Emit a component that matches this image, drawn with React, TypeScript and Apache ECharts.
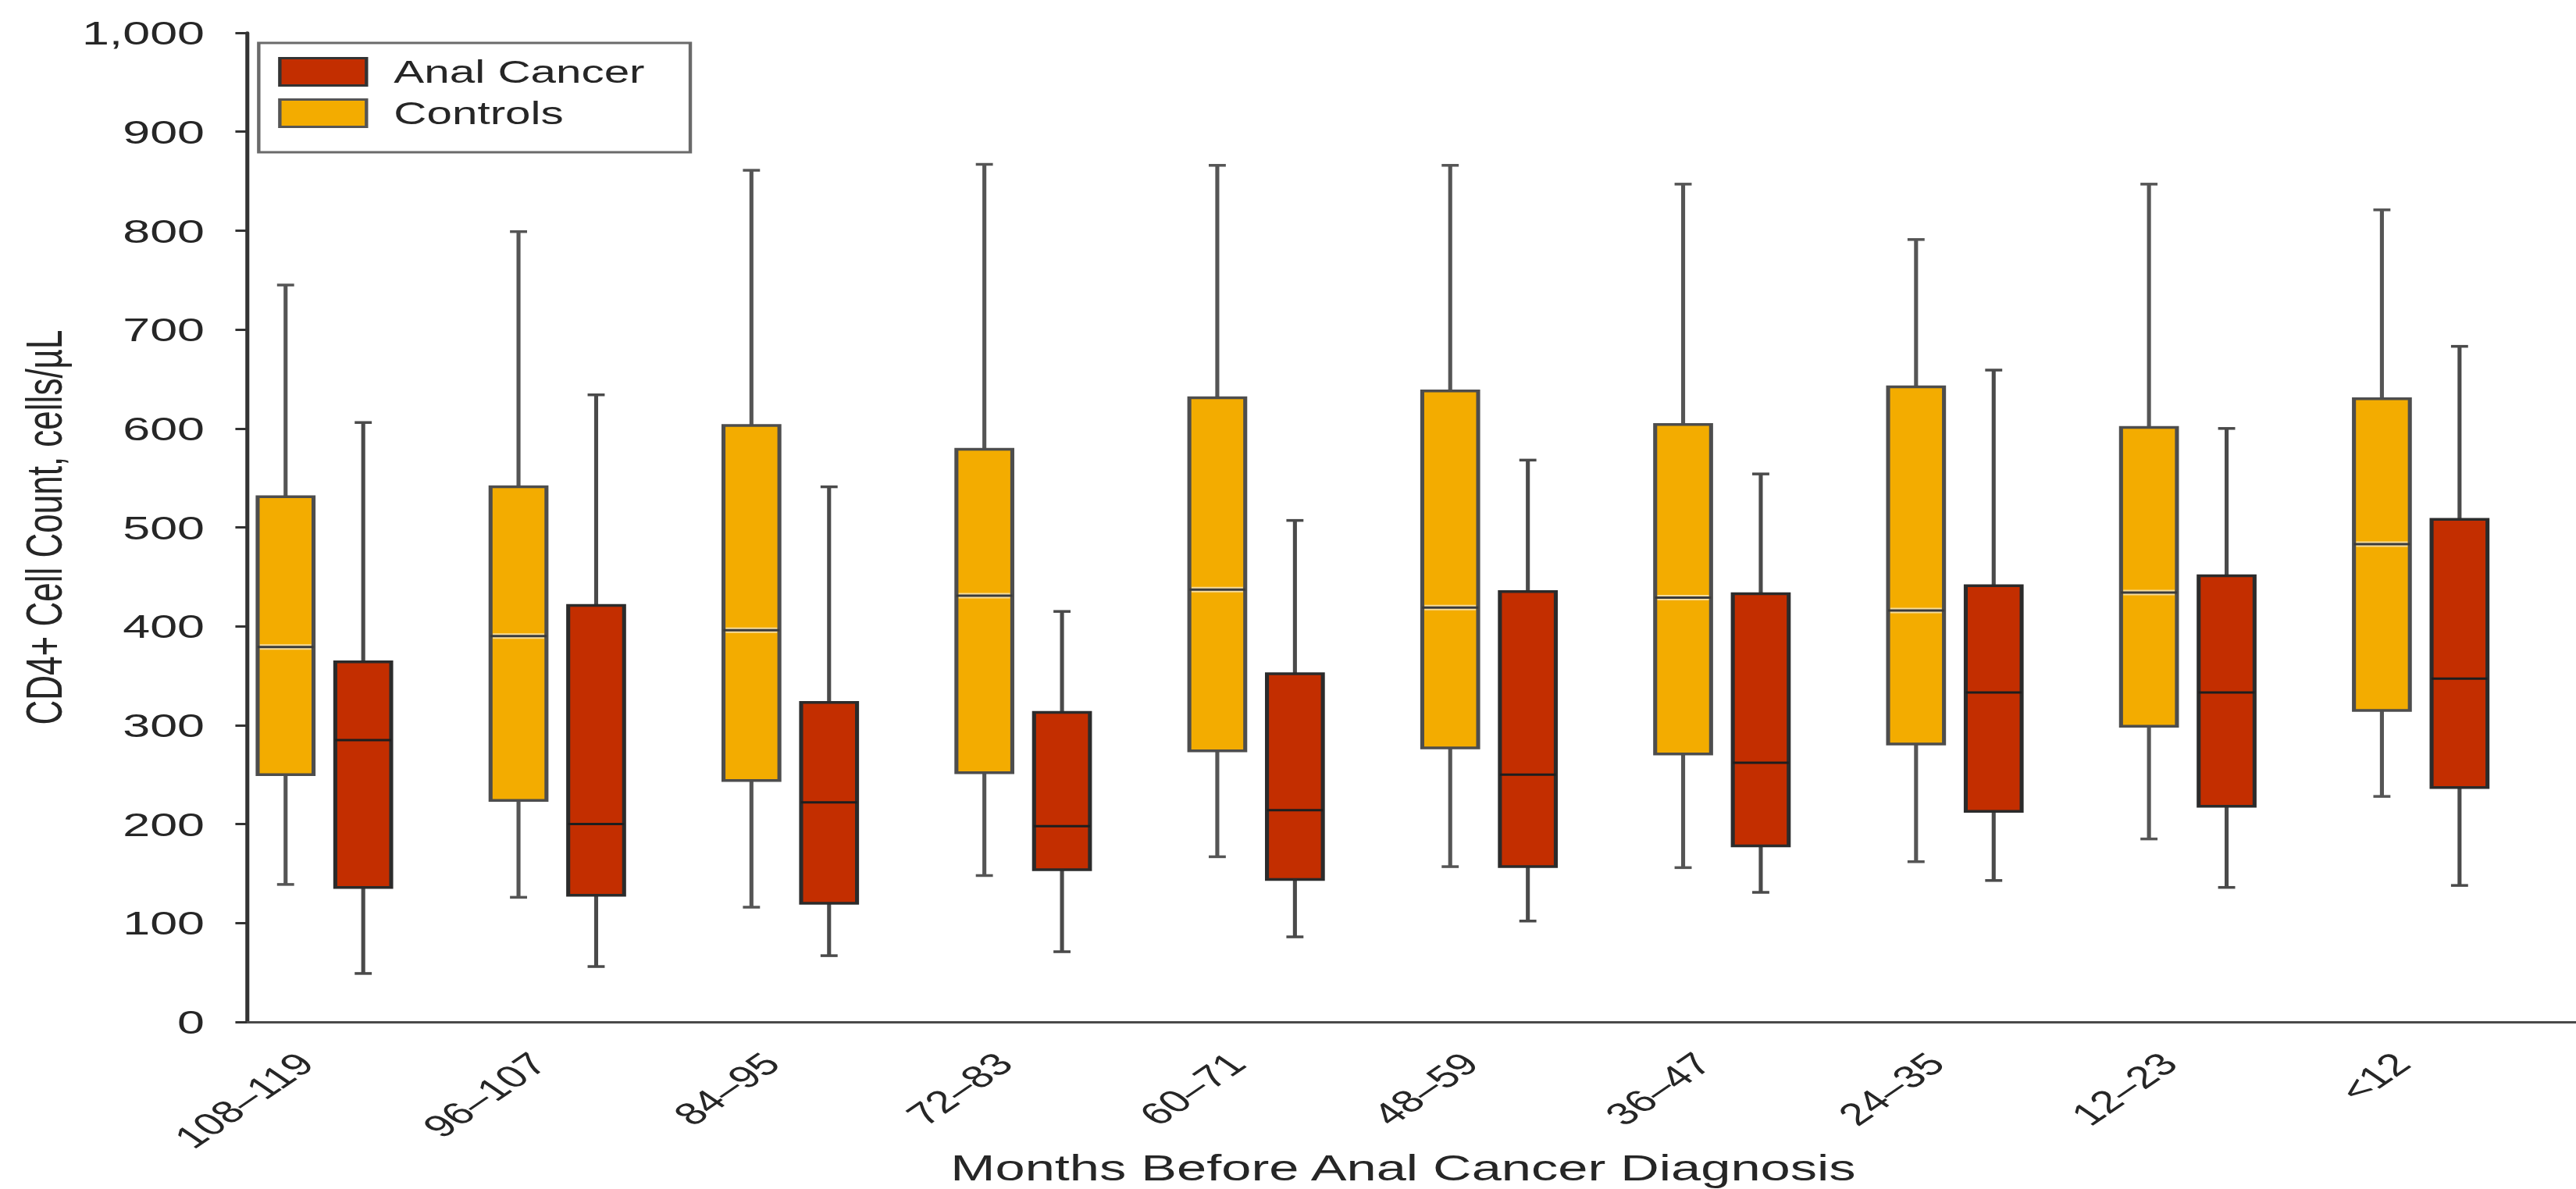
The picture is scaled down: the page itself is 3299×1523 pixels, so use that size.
import React, { useEffect, useRef } from "react";
import * as echarts from "echarts";

// ---------- data ----------
const groupLabels = ["108–119", "96–107", "84–95", "72–83", "60–71", "48–59", "36–47", "24–35", "12–23", "<12"];
// [min, Q1, median, Q3, max]
const controlsStats = [
  [139, 250, 379, 531, 745],
  [126, 224, 390, 541, 799],
  [116, 244, 396, 603, 861],
  [148, 252, 431, 579, 867],
  [167, 274, 437, 631, 866],
  [157, 277, 419, 638, 866],
  [156, 271, 429, 604, 847],
  [162, 281, 416, 642, 791],
  [185, 299, 434, 601, 847],
  [228, 315, 483, 630, 821],
];
const cancerStats = [
  [49, 136, 285, 364, 606],
  [56, 128, 200, 421, 634],
  [67, 120, 222, 323, 541],
  [71, 154, 198, 313, 415],
  [86, 144, 214, 352, 507],
  [102, 157, 250, 435, 568],
  [131, 178, 262, 433, 554],
  [143, 213, 333, 441, 659],
  [136, 218, 333, 451, 600],
  [138, 237, 347, 508, 683],
];
const yAxisMin = 0;
const yAxisMax = 1000;
const yAxisStep = 100;
const xTitle = "Months Before Anal Cancer Diagnosis";
const yTitle = "CD4+ Cell Count, cells/µL";
const seriesNames = ["Anal Cancer", "Controls"];

// ---------- layout ----------
const FULL_W = 3299;
const H = 1523;
const INNER_W = 2260;
const STRETCH = FULL_W / INNER_W;
const SLOTS_PER_GROUP = 3;
const FONT = '"Liberation Sans", Arial, Helvetica, sans-serif';
const TEXT = "#262626";

const YELLOW = "#F3AC00";
const RED = "#C32E00";

function boxRenderer(fill: string, border: string, whisker: string, median: string, medianHalo: string | null) {
  return (params: any, api: any) => {
    const x = api.value(0);
    const ys = [1, 2, 3, 4, 5].map((d) => api.coord([x, api.value(d)])[1]);
    const cx = api.coord([x, 0])[0];
    const band = api.size([1, 0])[0];
    const bw = band * 0.72;
    const cw = band * 0.22;
    const [pMin, pQ1, pMed, pQ3, pMax] = ys;
    const wStyle = { stroke: whisker, lineWidth: 3.5 };
    const children: any[] = [
      { type: "line", shape: { x1: cx, y1: pMax, x2: cx, y2: pQ3 }, style: wStyle },
      { type: "line", shape: { x1: cx, y1: pQ1, x2: cx, y2: pMin }, style: wStyle },
      { type: "line", shape: { x1: cx - cw / 2, y1: pMax, x2: cx + cw / 2, y2: pMax }, style: wStyle },
      { type: "line", shape: { x1: cx - cw / 2, y1: pMin, x2: cx + cw / 2, y2: pMin }, style: wStyle },
      {
        type: "rect",
        shape: { x: cx - bw / 2, y: pQ3, width: bw, height: pQ1 - pQ3 },
        style: { fill, stroke: border, lineWidth: 3.5 },
      },
    ];
    if (medianHalo) {
      children.push({
        type: "line",
        shape: { x1: cx - bw / 2 + 2, y1: pMed, x2: cx + bw / 2 - 2, y2: pMed },
        style: { stroke: medianHalo, lineWidth: 7 },
      });
    }
    children.push({
      type: "line",
      shape: { x1: cx - bw / 2, y1: pMed, x2: cx + bw / 2, y2: pMed },
      style: { stroke: median, lineWidth: 3 },
    });
    return { type: "group", children };
  };
}

export default function App() {
  const ref = useRef<HTMLDivElement>(null);

  useEffect(() => {
    document.body.style.margin = "0";
    document.body.style.overflow = "hidden";
    if (!ref.current) return;
    const chart = echarts.init(ref.current, null, { renderer: "svg" });

    const slotCount = groupLabels.length * SLOTS_PER_GROUP;
    const slots = Array.from({ length: slotCount }, (_, i) => `s${i}`);
    const controlsData = controlsStats.map((s, i) => [i * SLOTS_PER_GROUP, ...s]);
    const cancerData = cancerStats.map((s, i) => [i * SLOTS_PER_GROUP + 1, ...s]);

    const gridLeft = 216.5;
    const slotW = 104 / STRETCH;
    const gridRight = INNER_W - (gridLeft + slotW * slotCount);

    chart.setOption({
      animation: false,
      backgroundColor: "#ffffff",
      textStyle: { fontFamily: FONT },
      grid: { left: gridLeft, right: gridRight, top: 42, bottom: H - 1309 },
      legend: {
        orient: "vertical",
        left: 227,
        top: 55,
        icon: "rect",
        itemWidth: 76,
        itemHeight: 35,
        itemGap: 13,
        padding: [17, 40, 30, 17],
        borderColor: "#6a6a6a",
        borderWidth: 3,
        selectedMode: false,
        textStyle: { fontSize: 40, color: TEXT, fontFamily: FONT, lineHeight: 35, padding: [0, 0, 0, 19] },
        data: [
          { name: seriesNames[0], itemStyle: { color: RED, borderColor: "#333", borderWidth: 3 } },
          { name: seriesNames[1], itemStyle: { color: YELLOW, borderColor: "#555", borderWidth: 3 } },
        ],
      },
      xAxis: {
        type: "category",
        data: slots,
        boundaryGap: true,
        axisLine: { lineStyle: { color: "#4a4a4a", width: 3 } },
        axisTick: {
          interval: (i: number) => i % SLOTS_PER_GROUP === 0,
          length: 12,
          lineStyle: { color: "#4a4a4a", width: 3 },
        },
        axisLabel: {
          interval: (i: number) => i % SLOTS_PER_GROUP === 0,
          formatter: (_v: string, i: number) => (i % SLOTS_PER_GROUP === 0 ? groupLabels[i / SLOTS_PER_GROUP] : ""),
          rotate: 45,
          margin: 29,
          verticalAlign: "top",
          padding: [5, 0, 0, 0],
          fontSize: 40,
          color: TEXT,
          fontFamily: FONT,
        },
        splitLine: { show: false },
      },
      yAxis: {
        type: "value",
        min: yAxisMin,
        max: yAxisMax,
        interval: yAxisStep,
        name: yTitle,
        nameLocation: "middle",
        nameGap: 143,
        nameTextStyle: { fontSize: 44, color: TEXT, fontFamily: FONT },
        axisLine: { show: true, lineStyle: { color: "#333", width: 3.5 } },
        axisTick: { show: true, length: 10, lineStyle: { color: "#333", width: 3 } },
        axisLabel: {
          margin: 37,
          fontSize: 43,
          color: TEXT,
          fontFamily: FONT,
          formatter: (v: number) => v.toLocaleString("en-US"),
        },
        splitLine: { show: false },
      },
      graphic: [
        {
          type: "text",
          x: 1231,
          y: 1496,
          style: {
            text: xTitle,
            fontSize: 47,
            fontFamily: FONT,
            fill: TEXT,
            align: "center",
            verticalAlign: "middle",
          },
        },
      ],
      series: [
        {
          name: seriesNames[0],
          type: "custom",
          itemStyle: { color: RED, borderColor: "#333" },
          encode: { x: 0, y: [1, 2, 3, 4, 5] },
          renderItem: boxRenderer(RED, "#2b2b2b", "#4a4a4a", "#1e1e1e", null),
          data: cancerData,
        },
        {
          name: seriesNames[1],
          type: "custom",
          itemStyle: { color: YELLOW, borderColor: "#555" },
          encode: { x: 0, y: [1, 2, 3, 4, 5] },
          renderItem: boxRenderer(YELLOW, "#4d4d4d", "#555555", "#3a3a3a", "#f7dc9a"),
          data: controlsData,
        },
      ],
    });

    return () => {
      chart.dispose();
    };
  }, []);

  return (
    <div style={{ width: FULL_W, height: H, overflow: "hidden", background: "#fff" }}>
      <div
        ref={ref}
        style={{ width: INNER_W, height: H, transform: `scaleX(${STRETCH})`, transformOrigin: "0 0" }}
      />
    </div>
  );
}
